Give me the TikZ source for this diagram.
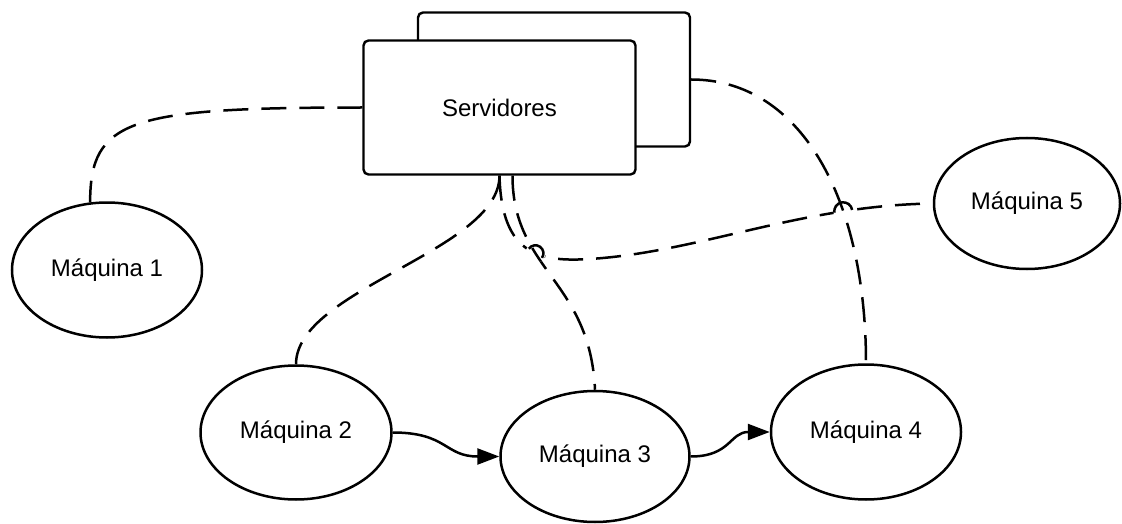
\documentclass[tikz,border=0pt]{standalone}
\usepackage{fontspec}
\setmainfont{Liberation Sans}
\usetikzlibrary{arrows.meta,shapes.geometric,intersections}

\tikzset{
  machine/.style={ellipse, draw, line width=2.5pt, fill=white, inner sep=0pt,
    minimum width=190pt, minimum height=134pt, font=\fontsize{24}{28}\selectfont},
  serverbox/.style={rectangle, rounded corners=5pt, draw, line width=2.4pt, fill=white,
    inner sep=0pt, minimum width=272pt, minimum height=134pt,
    font=\fontsize{24}{28}\selectfont},
  link/.style={line width=2.5pt, dash pattern=on 25pt off 13pt},
  flow/.style={line width=2.5pt, -{Triangle[length=22pt,width=16pt]}},
  hopline/.style={line width=2.5pt},
  eraser/.style={fill=white},
  % connector routes, reused when the crossings are redrawn
  route three/.style={insert path={([xshift=13pt]srv.south) .. controls +(0,-95) and +(-5,110) .. (m3.north)}},
  route four/.style={insert path={(srvback.east) .. controls +(110,0) and +(0,164) .. (m4.north)}},
  route five/.style={insert path={(srv.south) .. controls +(2,-80) and +(-50,-3) .. (c5mid)
    .. controls +(110,7) and +(-133,-2) .. (m5.west)}},
}

\begin{document}
\begin{tikzpicture}[x=1pt,y=1pt]
\useasboundingbox (0,0) rectangle (1122,-524);

% server stack
\node[serverbox] (srvback) at (554,-79.5) {};
\node[serverbox] (srv) at (499.5,-107.5) {Servidores};

% machines
\node[machine, minimum width=190pt, minimum height=135pt] (m1) at (107,-270) {Máquina 1};
\node[machine, minimum width=191pt, minimum height=134pt] (m2) at (296,-432.5) {Máquina 2};
\node[machine, minimum width=189pt, minimum height=131pt] (m3) at (595,-456.5) {Máquina 3};
\node[machine, minimum width=190pt, minimum height=135pt] (m4) at (866,-432) {Máquina 4};
\node[machine, minimum width=186pt, minimum height=131pt] (m5) at (1027,-203.5) {Máquina 5};

\coordinate (c5mid) at (590,-259);

% dashed links to the servers
\draw[link] (srv.west) .. controls +(-233,0) and +(0,83) .. (m1.104);
\draw[link] (srv.south) .. controls +(0,-75) and +(0,75) .. (m2.north);
\draw[link, name path=c3, route three];
\draw[link, name path=c4, route four];
\draw[link, name path=c5, route five];

% line hops where the link to Máquina 5 crosses the others
\path[name intersections={of=c5 and c3, by=hopa}];
\path[name intersections={of=c5 and c4, by=hopb}];

\fill[eraser] (hopa) circle (10);
\begin{scope}
  \clip (hopa) circle (10);
  \draw[link, route three];
\end{scope}
\draw[hopline] (hopa) ++(145:8) arc[start angle=145, end angle=-35, radius=8];

\fill[eraser] (hopb) circle (10);
\begin{scope}
  \clip (hopb) circle (10);
  \draw[link, route four];
\end{scope}
\draw[hopline] (hopb) ++(189:9) arc[start angle=189, end angle=9, radius=9];

% data flow between machines
\draw[flow] (m2.east) .. controls +(55,0) and +(-55,0) .. (m3.west);
\draw[flow] (m3.east) .. controls +(40,0) and +(-40,0) .. (m4.west);
\end{tikzpicture}
\end{document}
